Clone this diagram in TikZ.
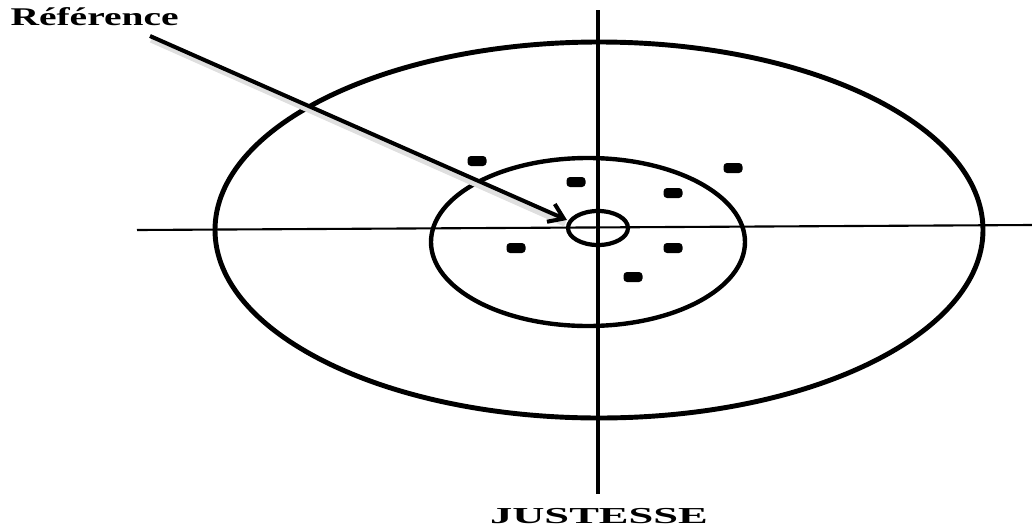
\documentclass[tikz,border=0pt]{standalone}
\usepackage{fontspec}
\setmainfont{Liberation Serif}
\usetikzlibrary{arrows.meta,calc}
\begin{document}
\begin{tikzpicture}[x=0.02cm,y=-0.02cm,
  ring/.style={line width=2.8pt},
  axis/.style={line width=1.2pt},
  dot/.style={fill=black,rounded corners=2pt},
  lbl/.style={font=\bfseries\fontsize{14.5}{15}\selectfont,inner sep=0pt}]
\useasboundingbox (0,0) rectangle (1032,528);
% axes
\draw[line width=2pt] (598,10) -- (598,494);
\draw[axis] (137,230) -- (1032,225);
% ellipses
\draw[ring] (599,230) ellipse [x radius=384, y radius=188];
\draw[ring,line width=2.5pt] (588,242) ellipse [x radius=157, y radius=84];
\draw[ring,line width=2.4pt] (598,228) ellipse [x radius=30, y radius=17];
% dots
\foreach \p in {(477,161),(576,182),(673,193),(733,168),(516,248),(673,248),(633,277)}
  \fill[dot] \p ++(-9.5,-5) rectangle ++(19,10);
% labels
\node[lbl,anchor=base west,xscale=1.55] (ref) at (10,25) {Référence};
\node[lbl,font=\bfseries\fontsize{13}{14}\selectfont,anchor=base,xscale=1.95] (just) at (599,523) {JUSTESSE};
\coordinate (a0) at (150,36);
\coordinate (a1) at (567,220);
\draw[gray!25,line width=3pt] ($(a0)+(1,4)$) -- ($(a1)+(-2,4)$);
\draw[line width=2.3pt,-{Straight Barb[length=8pt,width=11pt]}] (a0) -- (a1);
\end{tikzpicture}
\end{document}
